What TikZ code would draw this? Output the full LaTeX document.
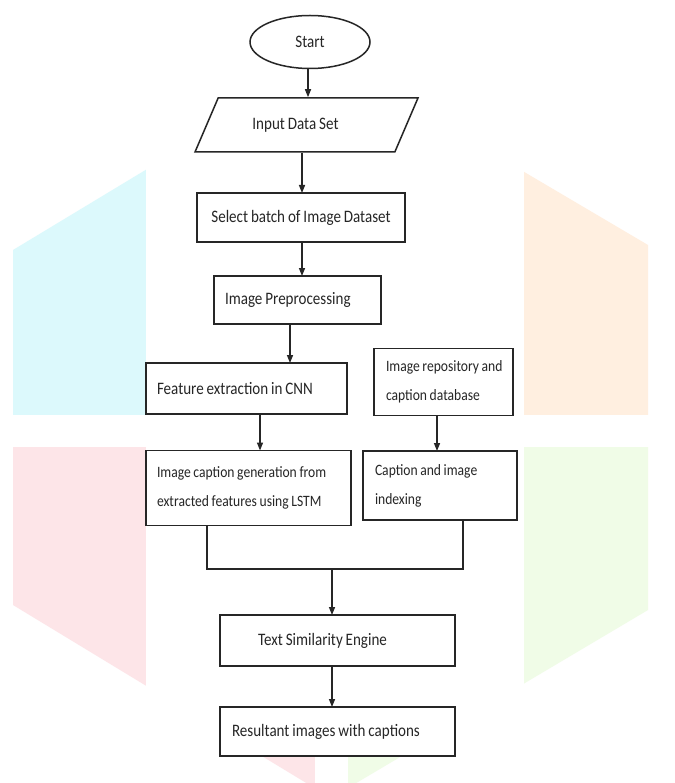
\documentclass[tikz,border=0pt]{standalone}
\usepackage{fontspec}
\setmainfont{Carlito}[FakeStretch=0.86,WordSpace=0.86]
\usetikzlibrary{arrows.meta,shapes.geometric,calc}
\definecolor{wmcyan}{RGB}{220,249,252}
\definecolor{wmorange}{RGB}{255,239,224}
\definecolor{wmred}{RGB}{253,229,232}
\definecolor{wmgreen}{RGB}{240,252,231}
\definecolor{ink}{RGB}{38,38,38}
\tikzset{
  txt/.style={font=\fontsize{17.5}{29}\selectfont, text=ink},
  smalltxt/.style={font=\fontsize{15.8}{29}\selectfont},
  box/.style={draw=ink, line width=1.5pt, fill=white, inner ysep=0pt, outer sep=0pt, txt},
  lbox/.style n args={4}{box, minimum width=#1, minimum height=#2, inner xsep=#3, text width=#4, align=flush left},
  cbox/.style 2 args={box, minimum width=#1, minimum height=#2, align=center},
  conn/.style={draw=ink, line width=1.4pt},
  arr/.style={conn, -{Triangle[length=8pt,width=6pt]}}
}
\begin{document}
\begin{tikzpicture}[x=1pt,y=-1pt]
\useasboundingbox (0,0) rectangle (674,783);
\fill[white] (0,0) rectangle (674,783);
% faint watermark hexagon
\begin{scope}
  \clip (331,58) -- (648,245) -- (648,610) -- (331,798) -- (13,605) -- (13,250) -- cycle;
  \fill[wmcyan] (0,0) rectangle (315,415);
  \fill[wmorange] (348,0) rectangle (674,415);
  \fill[wmred] (0,447) rectangle (315,783);
  \fill[wmgreen] (348,447) rectangle (674,783);
\end{scope}
\fill[white] (146,0) rectangle (524,757);

% nodes
\node[ellipse, draw=ink, line width=1.5pt, fill=white, minimum width=120, minimum height=53, inner sep=0pt, txt] (start) at (310,42) {Start};
\node[trapezium, trapezium left angle=45, trapezium right angle=135, trapezium stretches=true,
      draw=ink, line width=1.5pt, fill=white, minimum width=223, minimum height=54, inner sep=0pt, txt] (input) at (306.5,125) {Input Data Set\kern22pt};
\node[cbox={208}{49}] (select) at (301,217.5) {Select batch of Image Dataset};
\node[lbox={167}{48}{11}{145}] (prep) at (297.5,300) {\mbox{Image Preprocessing}};
\node[lbox={201}{51}{11}{179}] (feat) at (246.5,388.5) {\mbox{Feature extraction in CNN}};
\node[lbox={139}{67}{12}{115}, smalltxt] (repo) at (443.5,382) {\mbox{Image repository and}\\\mbox{caption database}};
\node[lbox={205}{75}{11}{183}, smalltxt] (capgen) at (248.5,488) {\mbox{Image caption generation from}\\\mbox{extracted features using LSTM}};
\node[lbox={154}{69}{12}{130}, smalltxt] (index) at (440,485.5) {\mbox{Caption and image}\\\mbox{indexing}};
\node[lbox={235}{51}{38}{159}] (sim) at (337.5,640.5) {\mbox{Text Similarity Engine}};
\node[lbox={235}{49}{12}{211}] (result) at (337.5,731.5) {\mbox{Resultant images with captions}};

% connectors
\coordinate (j) at (332,569);
\draw[arr] ([xshift=-2pt]start.south) -- ([xshift=-2pt]start.south |- input.north);
\draw[arr] ([xshift=1pt]select.north |- input.south) -- ([xshift=1pt]select.north);
\draw[arr] ([xshift=1pt]select.south) -- ([xshift=1pt]select.south |- prep.north);
\draw[arr] ([xshift=-7.5pt]prep.south) -- ([xshift=-7.5pt]prep.south |- feat.north);
\draw[arr] ([xshift=13.5pt]feat.south) -- ([xshift=13.5pt]feat.south |- capgen.north);
\draw[arr] ([xshift=-6.5pt]repo.south) -- ([xshift=-6.5pt]repo.south |- index.north);
\draw[conn] ([xshift=-41.5pt]capgen.south) |- (j) -| ([xshift=23pt]index.south);
\draw[arr] (j) -- (j |- sim.north);
\draw[arr] (j |- sim.south) -- (j |- result.north);
\end{tikzpicture}
\end{document}
